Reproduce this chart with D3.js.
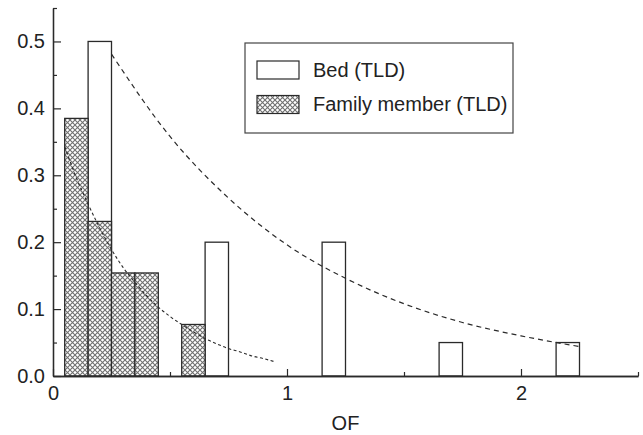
<!DOCTYPE html>
<html>
<head>
<meta charset="utf-8">
<script src="https://cdn.jsdelivr.net/npm/d3@7/dist/d3.min.js"></script>
<style>
  html, body { margin: 0; padding: 0; background: #fff; }
  svg { display: block; }
  text { font-family: "Liberation Sans", Arial, Helvetica, sans-serif; fill: #222; }
</style>
</head>
<body>
<svg id="chart" width="643" height="435"></svg>
<script>
// ---- data ----
const binWidth = 0.1;
const bedX = [0.2, 0.7, 1.2, 1.7, 2.2];
const bedVal = [0.5, 0.2, 0.2, 0.05, 0.05];
const famX = [0.1, 0.2, 0.3, 0.4, 0.6];
const famVal = [0.385, 0.231, 0.154, 0.154, 0.077];

// dashed fit curves
const bedFitX = [0.25, 0.5, 0.75, 1.0, 1.25, 1.5, 1.75, 2.0, 2.25];
const bedFitY = [0.481, 0.358, 0.266, 0.196, 0.146, 0.108, 0.080, 0.060, 0.044];
const famFitX = [0.05, 0.1, 0.15, 0.2, 0.25, 0.3, 0.35, 0.4, 0.45, 0.5, 0.55, 0.6, 0.65, 0.7, 0.75, 0.8, 0.85, 0.9, 0.95];
const famFitY = [0.343, 0.296, 0.257, 0.221, 0.189, 0.162, 0.140, 0.120, 0.103, 0.089, 0.077, 0.066, 0.056, 0.048, 0.041, 0.036, 0.030, 0.026, 0.021];

const xMajor = [0, 1, 2];
const xMinor = [0.5, 1.5, 2.5];
const yMajor = [0, 0.1, 0.2, 0.3, 0.4, 0.5];
const yMinor = [0.05, 0.15, 0.25, 0.35, 0.45, 0.55];

const legendLabels = ["Bed (TLD)", "Family member (TLD)"];
const xTitle = "OF";

// ---- layout ----
const svg = d3.select("#chart");
const mLeft = 53, mRight = 638, mTop = 8, mBottom = 376;
const x = d3.scaleLinear().domain([0, 2.5]).range([mLeft, mRight]);
const y = d3.scaleLinear().domain([0, 0.55]).range([mBottom, mTop]);
const fontSize = 20;
const ink = "#2a2a2a";

// hatch pattern
const defs = svg.append("defs");
const pat = defs.append("pattern").attr("id", "hatch")
  .attr("patternUnits", "userSpaceOnUse").attr("width", 5).attr("height", 5);
pat.append("rect").attr("width", 5).attr("height", 5).attr("fill", "#fff");
pat.append("path").attr("d", "M0,0L5,5M5,0L0,5")
  .attr("stroke", "#707070").attr("stroke-width", 1.1).attr("fill", "none");

// bars: bed
svg.append("g").selectAll("rect").data(bedX.map((v, i) => ({x: v, v: bedVal[i]})))
  .join("rect")
  .attr("x", d => x(d.x - binWidth / 2))
  .attr("width", d => x(d.x + binWidth / 2) - x(d.x - binWidth / 2))
  .attr("y", d => y(d.v))
  .attr("height", d => y(0) - y(d.v))
  .attr("fill", "#fff").attr("stroke", ink).attr("stroke-width", 1.3);

// bars: family
svg.append("g").selectAll("rect").data(famX.map((v, i) => ({x: v, v: famVal[i]})))
  .join("rect")
  .attr("x", d => x(d.x - binWidth / 2))
  .attr("width", d => x(d.x + binWidth / 2) - x(d.x - binWidth / 2))
  .attr("y", d => y(d.v))
  .attr("height", d => y(0) - y(d.v))
  .attr("fill", "url(#hatch)").attr("stroke", ink).attr("stroke-width", 1.3);

// fit curves
const line = d3.line().x(d => x(d[0])).y(d => y(d[1])).curve(d3.curveMonotoneX);
svg.append("path").datum(bedFitX.map((v, i) => [v, bedFitY[i]]))
  .attr("d", line).attr("fill", "none").attr("stroke", ink)
  .attr("stroke-width", 1.2).attr("stroke-dasharray", "5,4");
svg.append("path").datum(famFitX.map((v, i) => [v, famFitY[i]]))
  .attr("d", line).attr("fill", "none").attr("stroke", ink)
  .attr("stroke-width", 1.1).attr("stroke-dasharray", "3,2.5");

// axes
function styleAxis(g) {
  g.selectAll("path.domain").attr("stroke", ink).attr("stroke-width", 1.3);
  g.selectAll(".tick line").attr("stroke", ink).attr("stroke-width", 1.2);
  g.selectAll(".tick text").style("font-size", fontSize + "px")
    .style("font-family", '"Liberation Sans", Arial, sans-serif').attr("fill", "#222");
}
const xAxis = svg.append("g").attr("transform", `translate(0,${mBottom})`)
  .call(d3.axisBottom(x).tickValues(xMajor).tickFormat(d3.format("d"))
    .tickSize(-7).tickSizeOuter(0).tickPadding(10));
styleAxis(xAxis);
const xAxisMinor = svg.append("g").attr("transform", `translate(0,${mBottom})`)
  .call(d3.axisBottom(x).tickValues(xMinor).tickFormat("").tickSize(-4).tickSizeOuter(0));
styleAxis(xAxisMinor);

const yAxis = svg.append("g").attr("transform", `translate(${mLeft},0)`)
  .call(d3.axisLeft(y).tickValues(yMajor).tickFormat(d3.format(".1f"))
    .tickSize(-8).tickSizeOuter(0).tickPadding(8));
styleAxis(yAxis);
const yAxisMinor = svg.append("g").attr("transform", `translate(${mLeft},0)`)
  .call(d3.axisLeft(y).tickValues(yMinor).tickFormat("").tickSize(-4).tickSizeOuter(0));
styleAxis(yAxisMinor);

// x title
svg.append("text").attr("x", (mLeft + mRight) / 2).attr("y", 430)
  .attr("text-anchor", "middle").style("font-size", fontSize + "px").text(xTitle);

// legend
const lg = svg.append("g");
lg.append("rect").attr("x", 245).attr("y", 43).attr("width", 268).attr("height", 90)
  .attr("fill", "#fff").attr("stroke", "#444").attr("stroke-width", 1.2);
const fills = ["#fff", "url(#hatch)"];
legendLabels.forEach((t, i) => {
  const yy = 61 + i * 34.5;
  lg.append("rect").attr("x", 257).attr("y", yy).attr("width", 42).attr("height", 18)
    .attr("fill", fills[i]).attr("stroke", ink).attr("stroke-width", 1.2);
  lg.append("text").attr("x", 313).attr("y", yy + 15.5).style("font-size", fontSize + "px").text(t);
});
</script>
</body>
</html>
